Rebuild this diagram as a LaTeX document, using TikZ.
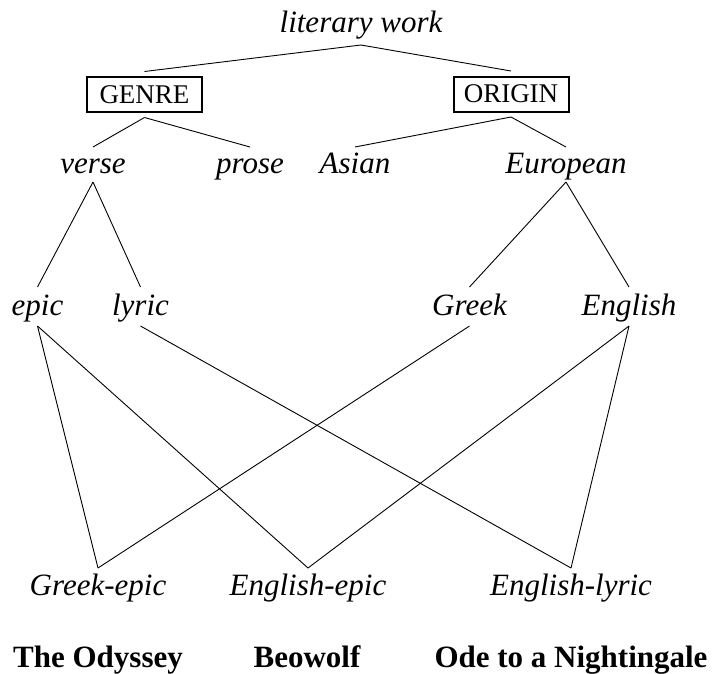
\documentclass[tikz,border=0pt]{standalone}
\usepackage{fontspec}
\setmainfont{Liberation Serif}
\begin{document}
\begin{tikzpicture}[x=1pt,y=-1pt,
  lab/.style={anchor=base, font=\fontsize{31}{36}\selectfont\itshape, inner sep=0pt, outer sep=0pt, text height=27pt, text depth=10pt},
  boxlab/.style={draw, line width=2pt, font=\fontsize{27}{32}\selectfont, inner sep=0pt, outer xsep=0pt, outer ysep=5.5pt, minimum width=115pt, minimum height=35pt, text height=17.9pt, text depth=0pt},
  work/.style={anchor=base, font=\fontsize{31}{36}\selectfont\bfseries, inner sep=0pt},
  edge/.style={line width=0.9pt}]
\useasboundingbox (0,0) rectangle (713,673);
% concept nodes (placed by baseline)
\node[lab, text depth=13pt] (lw) at (361,32) {literary work};
\node[boxlab] (genre) at (144.5,94.5) {GENRE};
\node[boxlab] (origin) at (511,94) {ORIGIN};
\node[lab, text height=26pt, text depth=9pt] (verse) at (93,173) {verse};
\node[lab, text height=26pt, text depth=9pt] (prose) at (250,173) {prose};
\node[lab, text height=26pt, text depth=9pt] (asian) at (355,173) {Asian};
\node[lab, text height=26pt, text depth=9pt] (euro) at (566,173) {European};
\node[lab, text height=28pt, text depth=11pt] (epic) at (37.5,315) {epic};
\node[lab, text height=28pt, text depth=11pt] (lyric) at (140.5,315) {lyric};
\node[lab, text height=28pt, text depth=11pt] (greek) at (469.5,315) {Greek};
\node[lab, text height=28pt, text depth=11pt] (english) at (629,315) {English};
\node[lab] (ge) at (98,595) {Greek-epic};
\node[lab] (ee) at (308,595) {English-epic};
\node[lab] (el) at (571,595) {English-lyric};
% instances
\node[work] (odyssey) at (98,667) {The Odyssey};
\node[work] (beowolf) at (307,667) {Beowolf};
\node[work] (ode) at (571,667) {Ode to a Nightingale};
% links
\draw[edge] (lw.south) -- (genre.north);
\draw[edge] (lw.south) -- (origin.north);
\draw[edge] (genre.south) -- (verse.north);
\draw[edge] (genre.south) -- (prose.north);
\draw[edge] (origin.south) -- (asian.north);
\draw[edge] (origin.south) -- (euro.north);
\draw[edge] (verse.south) -- (epic.north);
\draw[edge] (verse.south) -- (lyric.north);
\draw[edge] (euro.south) -- (greek.north);
\draw[edge] (euro.south) -- (english.north);
\draw[edge] (epic.south) -- (ge.north);
\draw[edge] (epic.south) -- (ee.north);
\draw[edge] (lyric.south) -- (el.north);
\draw[edge] (greek.south) -- (ge.north);
\draw[edge] (english.south) -- (ee.north);
\draw[edge] (english.south) -- (el.north);
\end{tikzpicture}
\end{document}
